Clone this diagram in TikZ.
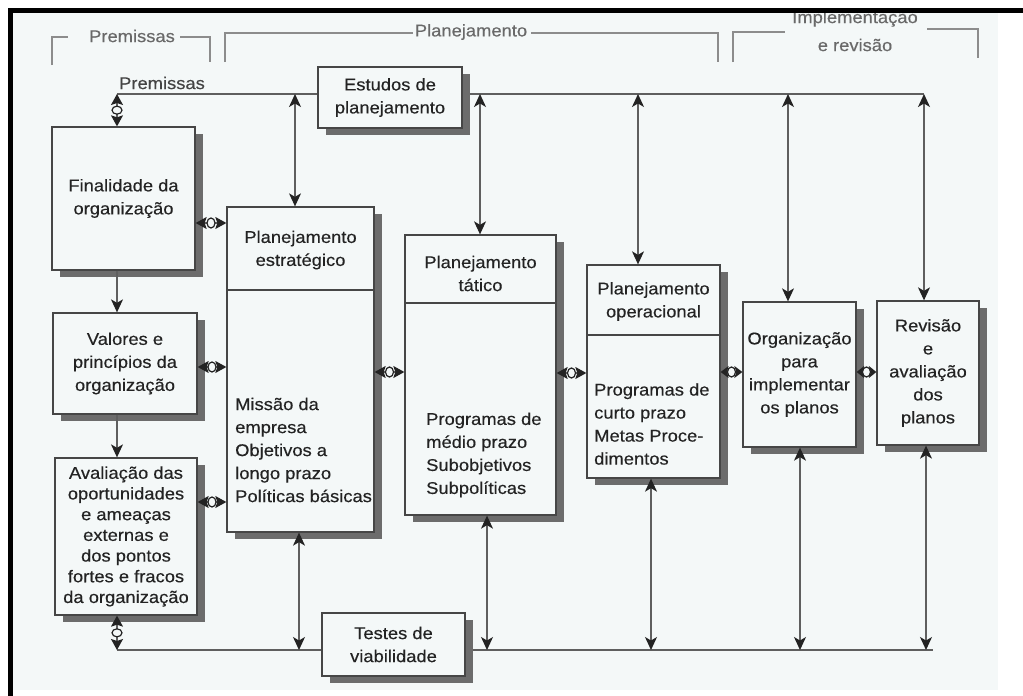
\documentclass[tikz,border=0pt]{standalone}
\usepackage{fontspec}
\setmainfont{Liberation Sans}[FakeStretch=1.08,FakeBold=0.35]
\usetikzlibrary{arrows.meta,shadows,shapes.geometric}

\definecolor{paper}{RGB}{244,248,248}
\definecolor{ink}{RGB}{35,35,35}
\definecolor{frame}{RGB}{70,70,70}
\definecolor{wire}{RGB}{95,95,95}
\definecolor{shade}{RGB}{108,108,108}
\definecolor{faint}{RGB}{105,105,105}
\definecolor{faintline}{RGB}{140,140,140}

\begin{document}
\begin{tikzpicture}[x=1pt,y=-1pt,
  every node/.style={font=\fontsize{17}{23}\selectfont, text=ink},
  box/.style={draw=frame, line width=1.3pt, fill=paper, inner sep=0pt, align=center,
    drop shadow={shadow xshift=8pt, shadow yshift=-7pt, fill=shade, opacity=1}},
  headtext/.style={align=center, inner sep=0pt},
  bodytext/.style={align=left, inner sep=0pt, anchor=west},
  bracket/.style={draw=faintline, line width=1.6pt},
  label/.style={text=faint, inner sep=0pt, align=center},
  wireline/.style={draw=wire, line width=1.2pt},
  arr/.style={wireline, arrows={-Stealth[length=13pt,width=12pt,inset=3.5pt,color=ink]}},
  dbl/.style={wireline, arrows={Stealth[length=13pt,width=12pt,inset=3.5pt,color=ink]-Stealth[length=13pt,width=12pt,inset=3.5pt,color=ink]}},
  bulb/.style={wireline, arrows={Stealth[length=#1,width=12pt,inset=2pt,color=ink]-Stealth[length=#1,width=12pt,inset=2pt,color=ink]}},
  bulb/.default=11pt,
  knob/.style={ellipse, draw=ink, line width=1.2pt, fill=paper, minimum width=8pt, minimum height=10pt, inner sep=0pt},
  vknob/.style={ellipse, draw=ink, line width=1.2pt, fill=paper, minimum width=10pt, minimum height=8pt, inner sep=0pt},
]
% page and paper
\fill[white] (0,0) rectangle (1023,696);
\fill[paper] (12,12) rectangle (998,690);

% phase brackets along the top
\draw[bracket] (52,65) -- (52,37) -- (68,37);
\node[label] (lprem) at (132,36) {Premissas};
\draw[bracket] (180,37) -- (210,37) -- (210,62);
\draw[bracket] (225,62) -- (225,33) -- (413,33);
\node[label] (lplan) at (471,32) {Planejamento};
\draw[bracket] (531,33) -- (718,33) -- (718,62);
\draw[bracket] (733,62) -- (733,32) -- (785,32);
\node[label, font=\fontsize{17}{28}\selectfont] (limp) at (855,31) {Implementação\\e revisão};
\draw[bracket] (927,29) -- (978,29) -- (978,58);

\node[inner sep=0pt, text=ink!85] (prem) at (162,83) {Premissas};

% feedback buses (top and bottom)
\coordinate (tl) at (117,94);
\coordinate (tr) at (924,94);
\coordinate (bl) at (117,650);
\coordinate (br) at (933,650);
\draw[wireline] (tl) -- (tr);
\draw[wireline] (bl) -- (br);
\coordinate (a1) at (295,94);
\coordinate (a2) at (480,94);
\coordinate (a3) at (638,94);
\coordinate (a4) at (788,94);
\coordinate (a5) at (924,94);
\coordinate (b1) at (299,650);
\coordinate (b2) at (487,650);
\coordinate (b3) at (651,650);
\coordinate (b4) at (800,650);
\coordinate (b5) at (926,650);

% boxes
\node[box, minimum width=144, minimum height=61] (est) at (390,97.5) {Estudos de\\planejamento};
\node[box, minimum width=143, minimum height=63] (tst) at (393.5,644.5) {Testes de\\viabilidade};

\node[box, minimum width=143, minimum height=143] (fin) at (123.5,198.5) {Finalidade da\\organização};
\node[box, minimum width=144, minimum height=101] (val) at (125,363.5) {Valores e\\princípios da\\organização};
\node[box, minimum width=142, minimum height=157, font=\fontsize{17}{20.7}\selectfont] (ava) at (126,536.5)
  {Avaliação das\\oportunidades\\e ameaças\\externas e\\dos pontos\\fortes e fracos\\da organização};

\node[box, minimum width=147, minimum height=325] (pe) at (300.5,369.5) {};
\draw[draw=frame, line width=1.3pt] (pe.west |- 0,290) -- (pe.east |- 0,290);
\node[headtext] (peh) at (300.5,250) {Planejamento\\estratégico};
\node[bodytext] (peb) at (235,450) {Missão da\\empresa\\Objetivos a\\longo prazo\\Políticas básicas};

\node[box, minimum width=151, minimum height=280] (pt) at (480.5,375) {};
\draw[draw=frame, line width=1.3pt] (pt.west |- 0,303) -- (pt.east |- 0,303);
\node[headtext] (pth) at (480.5,273.5) {Planejamento\\tático};
\node[bodytext] (ptb) at (426,455) {Programas de\\médio prazo\\Subobjetivos\\Subpolíticas};

\node[box, minimum width=133, minimum height=213] (po) at (653.5,371.5) {};
\draw[draw=frame, line width=1.3pt] (po.west |- 0,335) -- (po.east |- 0,335);
\node[headtext] (poh) at (653.5,301.5) {Planejamento\\operacional};
\node[bodytext] (pob) at (594,424) {Programas de\\curto prazo\\Metas Proce-\\dimentos};

\node[box, minimum width=113, minimum height=145] (org) at (799.5,374.5) {Organização\\para\\implementar\\os planos};
\node[box, minimum width=102, minimum height=144] (rev) at (928,373) {Revisão\\e\\avaliação\\dos\\planos};

% premises column flow
\draw[bulb] (tl) -- node[vknob] (k0) {} (tl |- fin.north);
\draw[arr] (fin.south -| tl) -- (val.north -| tl);
\draw[arr] (val.south -| tl) -- (ava.north -| tl);
\draw[bulb] (ava.south -| bl) -- node[vknob] (k8) {} (bl);

% links between neighbouring boxes
\draw[bulb] (fin.east |- 0,223) -- node[knob] (k1) {} (pe.west |- 0,223);
\draw[bulb] (val.east |- 0,367) -- node[knob] (k2) {} (pe.west |- 0,367);
\draw[bulb] (ava.east |- 0,502) -- node[knob] (k3) {} (pe.west |- 0,502);
\draw[bulb] (pe.east |- 0,372) -- node[knob] (k4) {} (pt.west |- 0,372);
\draw[bulb] (pt.east |- 0,373) -- node[knob] (k5) {} (po.west |- 0,373);
\draw[bulb=8pt] (po.east |- 0,372) -- node[knob] (k6) {} (org.west |- 0,372);
\draw[bulb=7.5pt] (org.east |- 0,372) -- node[knob] (k7) {} (rev.west |- 0,372);

% planning studies feed every stage
\draw[dbl] (a1) -- (a1 |- pe.north);
\draw[dbl] (a2) -- (a2 |- pt.north);
\draw[dbl] (a3) -- (a3 |- po.north);
\draw[dbl] (a4) -- (a4 |- org.north);
\draw[dbl] (a5) -- (a5 |- rev.north);

% feasibility tests close the loop
\draw[dbl] (b1 |- pe.south) -- (b1);
\draw[dbl] (b2 |- pt.south) -- (b2);
\draw[dbl] (b3 |- po.south) -- (b3);
\draw[dbl] (b4 |- org.south) -- (b4);
\draw[dbl] (b5 |- rev.south) -- (b5);

% dark frame edges
\fill[black] (8,8) rectangle (1023,12.5);
\fill[black] (8,8) rectangle (12.5,696);
\end{tikzpicture}
\end{document}
